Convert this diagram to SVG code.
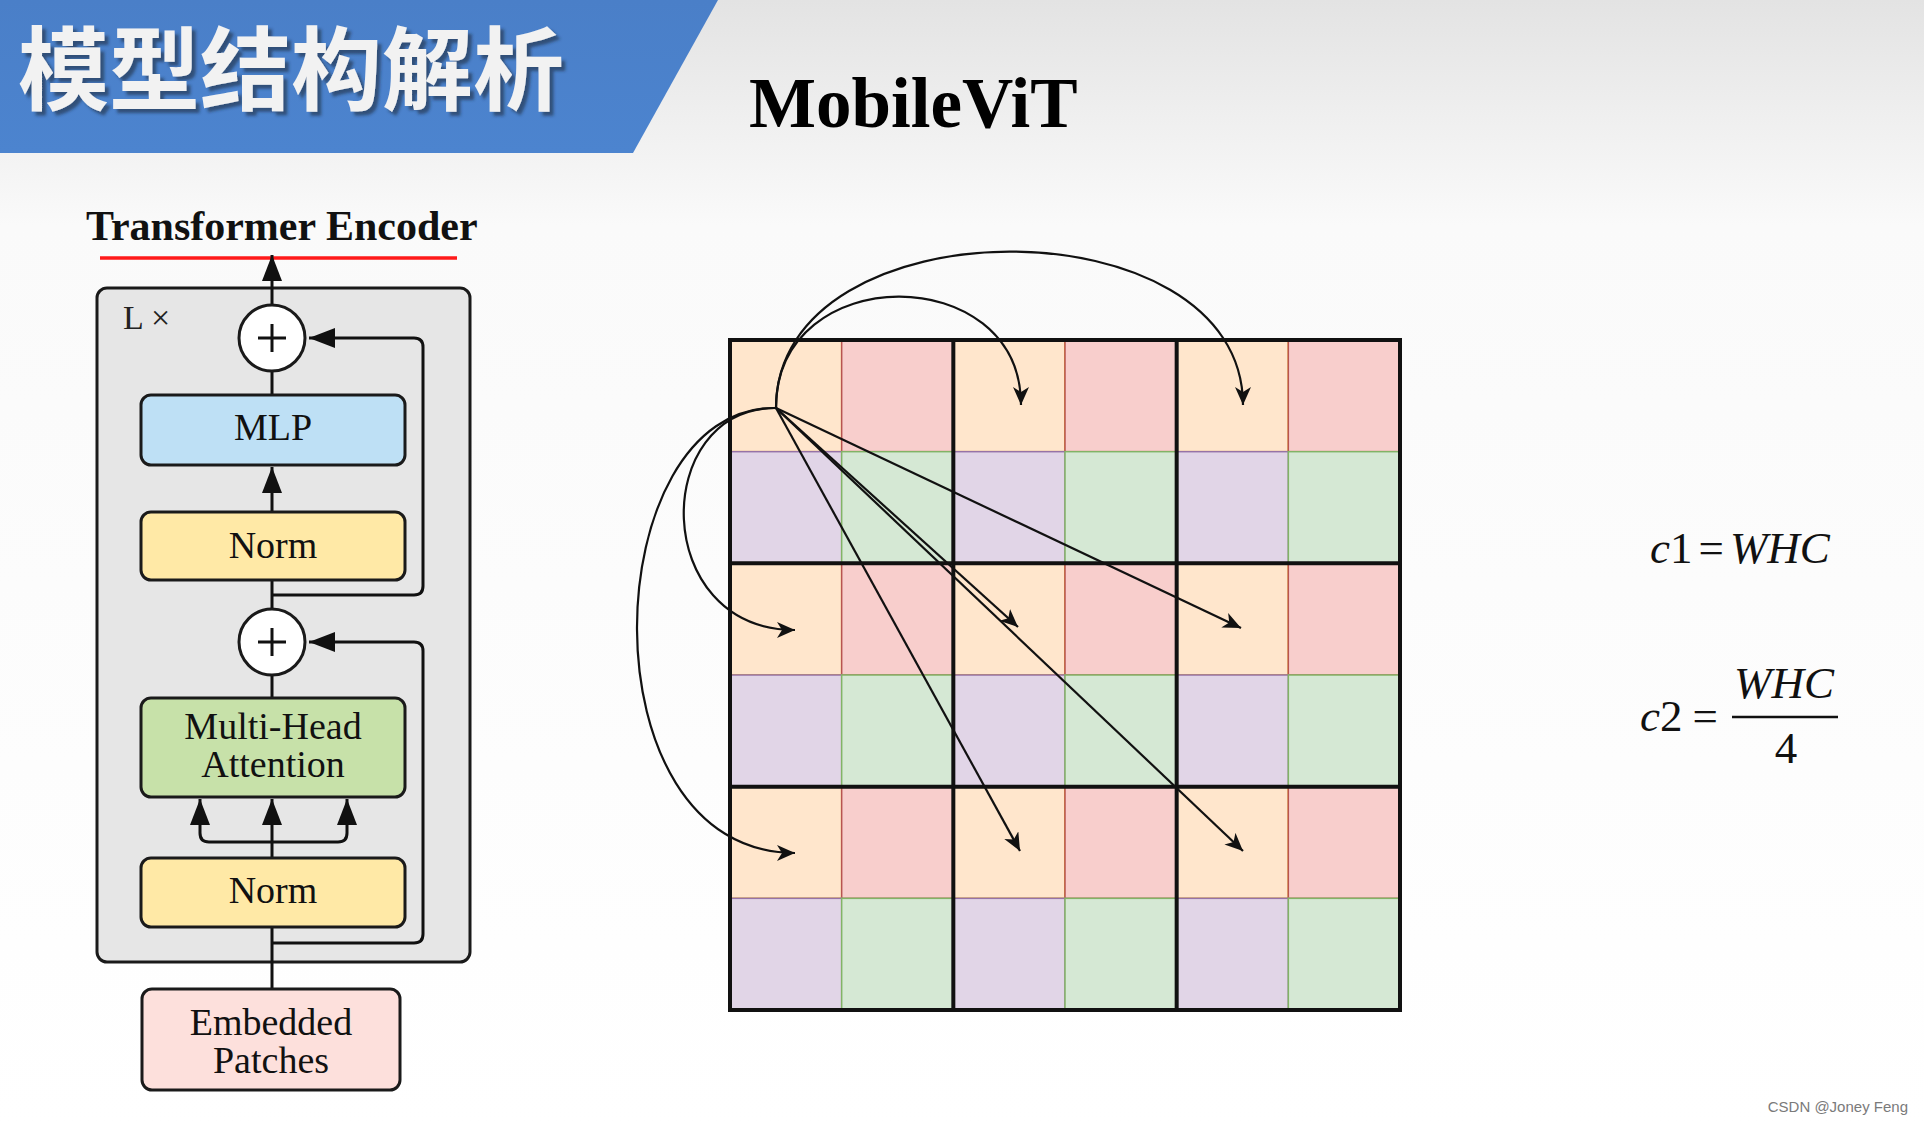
<svg xmlns="http://www.w3.org/2000/svg" width="1924" height="1125" viewBox="0 0 1924 1125">
<defs>
<linearGradient id="bg" x1="0" y1="0" x2="0" y2="1">
<stop offset="0" stop-color="#e3e3e3"/>
<stop offset="0.2" stop-color="#fafafa"/>
<stop offset="1" stop-color="#ffffff"/>
</linearGradient>
<linearGradient id="ban" x1="0" y1="0" x2="0" y2="1">
<stop offset="0" stop-color="#4a7fc8"/>
<stop offset="1" stop-color="#4c84cf"/>
</linearGradient>
<filter id="shadow" filterUnits="userSpaceOnUse" x="0" y="0" width="640" height="150">
<feDropShadow dx="4" dy="4" stdDeviation="1.5" flood-color="#1e2a40" flood-opacity="0.6"/>
</filter>
<marker id="tri" markerUnits="userSpaceOnUse" markerWidth="28" markerHeight="22" refX="26" refY="10" orient="auto">
<path d="M0,0 L26,10 L0,20 z" fill="#111"/>
</marker>
<marker id="cls" markerUnits="userSpaceOnUse" markerWidth="20" markerHeight="18" refX="18" refY="8" orient="auto">
<path d="M0,0 L18,8 L0,16 L5,8 z" fill="#111"/>
</marker>
</defs>
<style>
.box{stroke:#1a1a1a;stroke-width:3}
.lbl{font-family:"Liberation Serif",serif;font-size:38px;fill:#111;text-anchor:middle}
.wire{fill:none;stroke:#111;stroke-width:3}
.arr{fill:none;stroke:#111;stroke-width:2.2}
.p{fill:#ffe6cc;stroke:#d79b00;stroke-width:1.5}
.r{fill:#f8cecc;stroke:#b85450;stroke-width:1.5}
.u{fill:#e1d5e7;stroke:#9673a6;stroke-width:1.5}
.g{fill:#d5e8d4;stroke:#82b366;stroke-width:1.5}
.eq{font-family:"Liberation Serif",serif;font-size:45px;fill:#111}
</style>
<rect x="0" y="0" width="1924" height="1125" fill="url(#bg)"/>
<g id="banner">
<polygon points="0,0 718,0 633,153 0,153" fill="url(#ban)"/>
<text x="18" y="103" font-family="'Noto Sans CJK SC',sans-serif" font-weight="bold" font-size="91" fill="#f2f2f2" filter="url(#shadow)">模型结构解析</text>
</g>
<text id="title" x="749" y="127" font-family="'Liberation Serif',serif" font-weight="bold" font-size="71" fill="#000">MobileViT</text>
<g id="encoder-title">
<text x="86" y="240" font-family="'Liberation Serif',serif" font-weight="bold" font-size="42" fill="#111">Transformer Encoder</text>
<line x1="100" y1="258" x2="457" y2="258" stroke="#ff1a1a" stroke-width="3.5"/>
</g>
<g id="encoder-block">
<rect x="97" y="288" width="373" height="674" rx="10" fill="#e6e6e6" class="box"/>
<text x="123" y="329" font-family="'Liberation Serif',serif" font-size="34" fill="#222">L ×</text>
</g>
<g id="connectors">
<line x1="272" y1="305" x2="272" y2="255" class="wire" marker-end="url(#tri)"/>
<line x1="272" y1="371" x2="272" y2="395" class="wire"/>
<line x1="272" y1="512" x2="272" y2="467" class="wire" marker-end="url(#tri)"/>
<line x1="272" y1="580" x2="272" y2="609" class="wire"/>
<path d="M272,595 H414 Q423,595 423,586 V347 Q423,338 414,338 H309" class="wire" marker-end="url(#tri)"/>
<line x1="272" y1="675" x2="272" y2="698" class="wire"/>
<path d="M272,858 V799" class="wire" marker-end="url(#tri)"/>
<path d="M272,842 H209 Q200,842 200,833 V799" class="wire" marker-end="url(#tri)"/>
<path d="M272,842 H338 Q347,842 347,833 V799" class="wire" marker-end="url(#tri)"/>
<line x1="272" y1="989" x2="272" y2="927" class="wire"/>
<path d="M272,943 H414 Q423,943 423,934 V651 Q423,642 414,642 H309" class="wire" marker-end="url(#tri)"/>
</g>
<g id="add-top">
<circle cx="272" cy="338" r="33" fill="#fff" class="box"/>
<path d="M258,338 H286 M272,324 V352" stroke="#111" stroke-width="3"/>
</g>
<g id="mlp">
<rect x="141" y="395" width="264" height="70" rx="10" fill="#bee0f5" class="box"/>
<text x="273" y="440" class="lbl">MLP</text>
</g>
<g id="norm-top">
<rect x="141" y="512" width="264" height="68" rx="10" fill="#ffe9a6" class="box"/>
<text x="273" y="558" class="lbl">Norm</text>
</g>
<g id="add-bottom">
<circle cx="272" cy="642" r="33" fill="#fff" class="box"/>
<path d="M258,642 H286 M272,628 V656" stroke="#111" stroke-width="3"/>
</g>
<g id="mha">
<rect x="141" y="698" width="264" height="99" rx="10" fill="#c7e1a9" class="box"/>
<text x="273" y="739" class="lbl">Multi-Head</text>
<text x="273" y="777" class="lbl">Attention</text>
</g>
<g id="norm-bottom">
<rect x="141" y="858" width="264" height="69" rx="10" fill="#ffe9a6" class="box"/>
<text x="273" y="903" class="lbl">Norm</text>
</g>
<g id="embedded">
<rect x="142" y="989" width="258" height="101" rx="10" fill="#fde0dc" class="box"/>
<text x="271" y="1035" class="lbl">Embedded</text>
<text x="271" y="1073" class="lbl">Patches</text>
</g>
<g id="grid">
<rect class="p" x="730" y="340" width="111.67" height="111.67"/>
<rect class="p" x="953.33" y="340" width="111.67" height="111.67"/>
<rect class="p" x="1176.67" y="340" width="111.67" height="111.67"/>
<rect class="p" x="730" y="563.33" width="111.67" height="111.67"/>
<rect class="p" x="953.33" y="563.33" width="111.67" height="111.67"/>
<rect class="p" x="1176.67" y="563.33" width="111.67" height="111.67"/>
<rect class="p" x="730" y="786.67" width="111.67" height="111.67"/>
<rect class="p" x="953.33" y="786.67" width="111.67" height="111.67"/>
<rect class="p" x="1176.67" y="786.67" width="111.67" height="111.67"/>
<rect class="r" x="841.67" y="340" width="111.67" height="111.67"/>
<rect class="r" x="1065" y="340" width="111.67" height="111.67"/>
<rect class="r" x="1288.33" y="340" width="111.67" height="111.67"/>
<rect class="r" x="841.67" y="563.33" width="111.67" height="111.67"/>
<rect class="r" x="1065" y="563.33" width="111.67" height="111.67"/>
<rect class="r" x="1288.33" y="563.33" width="111.67" height="111.67"/>
<rect class="r" x="841.67" y="786.67" width="111.67" height="111.67"/>
<rect class="r" x="1065" y="786.67" width="111.67" height="111.67"/>
<rect class="r" x="1288.33" y="786.67" width="111.67" height="111.67"/>
<rect class="u" x="730" y="451.67" width="111.67" height="111.67"/>
<rect class="u" x="953.33" y="451.67" width="111.67" height="111.67"/>
<rect class="u" x="1176.67" y="451.67" width="111.67" height="111.67"/>
<rect class="u" x="730" y="675" width="111.67" height="111.67"/>
<rect class="u" x="953.33" y="675" width="111.67" height="111.67"/>
<rect class="u" x="1176.67" y="675" width="111.67" height="111.67"/>
<rect class="u" x="730" y="898.33" width="111.67" height="111.67"/>
<rect class="u" x="953.33" y="898.33" width="111.67" height="111.67"/>
<rect class="u" x="1176.67" y="898.33" width="111.67" height="111.67"/>
<rect class="g" x="841.67" y="451.67" width="111.67" height="111.67"/>
<rect class="g" x="1065" y="451.67" width="111.67" height="111.67"/>
<rect class="g" x="1288.33" y="451.67" width="111.67" height="111.67"/>
<rect class="g" x="841.67" y="675" width="111.67" height="111.67"/>
<rect class="g" x="1065" y="675" width="111.67" height="111.67"/>
<rect class="g" x="1288.33" y="675" width="111.67" height="111.67"/>
<rect class="g" x="841.67" y="898.33" width="111.67" height="111.67"/>
<rect class="g" x="1065" y="898.33" width="111.67" height="111.67"/>
<rect class="g" x="1288.33" y="898.33" width="111.67" height="111.67"/>
<path d="M953.33,340 V1010 M1176.67,340 V1010 M730,563.33 H1400 M730,786.67 H1400" stroke="#111" stroke-width="4"/>
<rect x="730" y="340" width="670" height="670" fill="none" stroke="#111" stroke-width="4"/>
</g>
<g id="grid-connectors">
<path d="M776,408 C776,260 1021,260 1021,405" class="arr" marker-end="url(#cls)"/>
<path d="M776,408 C776,200 1243,200 1243,405" class="arr" marker-end="url(#cls)"/>
<path d="M776,408 C650,408 650,630 795,630" class="arr" marker-end="url(#cls)"/>
<path d="M776,408 C595,405 580,853 795,853" class="arr" marker-end="url(#cls)"/>
<line x1="776" y1="408" x2="1018" y2="627" class="arr" marker-end="url(#cls)"/>
<line x1="776" y1="408" x2="1241" y2="628" class="arr" marker-end="url(#cls)"/>
<line x1="776" y1="408" x2="1020" y2="851" class="arr" marker-end="url(#cls)"/>
<line x1="776" y1="408" x2="1243" y2="851" class="arr" marker-end="url(#cls)"/>
</g>
<g id="equations">
<text x="1650" y="563" class="eq"><tspan font-style="italic">c</tspan><tspan>1</tspan><tspan dx="6">=</tspan><tspan dx="6" font-style="italic">WHC</tspan></text>
<text x="1640" y="731" class="eq"><tspan font-style="italic">c</tspan><tspan>2</tspan><tspan dx="10">=</tspan></text>
<text x="1784" y="698" class="eq" text-anchor="middle" font-style="italic">WHC</text>
<line x1="1732" y1="717" x2="1838" y2="717" stroke="#111" stroke-width="2.5"/>
<text x="1786" y="763" class="eq" text-anchor="middle">4</text>
</g>
<text id="credit" x="1908" y="1112" text-anchor="end" font-family="'Liberation Sans',sans-serif" font-size="15" fill="#7a7a7a">CSDN @Joney Feng</text>
</svg>
